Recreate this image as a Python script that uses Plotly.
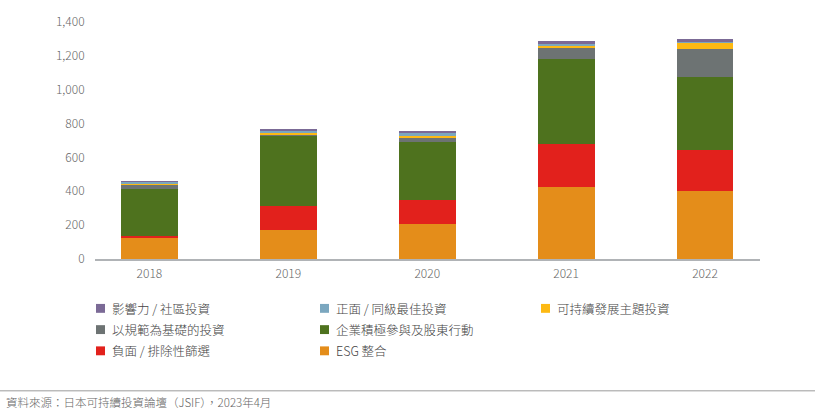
import plotly.graph_objects as go

# ---- data ----
years = ["2018", "2019", "2020", "2021", "2022"]
esg_integration = [124, 173, 204, 424, 402]
negative_screening = [14, 142, 144, 254, 239]
engagement = [276, 409, 341, 506, 437]
norms_based = [25, 13, 25, 60, 165]
sustainability_themes = [2, 8, 13, 13, 31]
positive_best_in_class = [15, 15, 15, 14, 13]
impact_community = [1, 3, 17, 18, 10]

series_names = [
    "ESG 整合",
    "負面 / 排除性篩選",
    "企業積極參與及股東行動",
    "以規範為基礎的投資",
    "可持續發展主題投資",
    "正面 / 同級最佳投資",
    "影響力 / 社區投資",
]
series_values = [esg_integration, negative_screening, engagement, norms_based,
                 sustainability_themes, positive_best_in_class, impact_community]
series_colors = ["#e48d1a", "#e2211c", "#4e721e", "#6d7373",
                 "#fdb913", "#7ba7bf", "#7b6a96"]

y_ticks = [0, 200, 400, 600, 800, 1000, 1200, 1400]
source_text = "資料來源：日本可持續投資論壇（JSIF），2023年4月"

# ---- layout geometry (pixels) ----
W, H = 820, 413
PL, PR, PT, PB = 95, 760, 19, 259  # plot area
FONT = "Noto Sans CJK TC, Noto Sans, sans-serif"


def xp(px):
    return (px - PL) / (PR - PL)


def yp(py):
    return (PB - py) / (PB - PT)


fig = go.Figure()
for name, vals, col in zip(series_names, series_values, series_colors):
    fig.add_trace(go.Bar(
        x=years, y=vals, name=name, marker=dict(color=col, line=dict(width=0)),
        width=0.41, showlegend=False,
    ))

# manual legend laid out like the reference (3 columns, rows)
legend_layout = [
    ("影響力 / 社區投資", 0, 0), ("正面 / 同級最佳投資", 1, 0), ("可持續發展主題投資", 2, 0),
    ("以規範為基礎的投資", 0, 1), ("企業積極參與及股東行動", 1, 1),
    ("負面 / 排除性篩選", 0, 2), ("ESG 整合", 1, 2),
]
col_x = [96, 320, 541]
row_y = [309, 330.5, 352]
shapes = []
annotations = []
for label, c, r in legend_layout:
    color = series_colors[series_names.index(label)]
    x0 = col_x[c]
    y0 = row_y[r]
    shapes.append(dict(type="rect", xref="paper", yref="paper",
                       x0=xp(x0), x1=xp(x0 + 9), y0=yp(y0 - 4.5), y1=yp(y0 + 4.5),
                       fillcolor=color, line=dict(width=0)))
    annotations.append(dict(text=label, xref="paper", yref="paper",
                            x=xp(x0 + 14), y=yp(y0), xanchor="left", yanchor="middle",
                            showarrow=False,
                            font=dict(family=FONT, size=12.5, color="#444444", weight=300)))

# footer rule and source
shapes.append(dict(type="line", xref="paper", yref="paper",
                   x0=xp(0), x1=xp(815), y0=yp(392.5), y1=yp(392.5),
                   line=dict(color="#9a9a9a", width=1)))
annotations.append(dict(text=source_text, xref="paper", yref="paper",
                        x=xp(4), y=yp(404), xanchor="left", yanchor="middle",
                        showarrow=False,
                        font=dict(family=FONT, size=11.5, color="#666666", weight=300)))

fig.update_layout(
    width=W, height=H,
    margin=dict(l=PL, r=W - PR, t=PT, b=H - PB, pad=0),
    barmode="stack",
    plot_bgcolor="white", paper_bgcolor="white",
    font=dict(family=FONT, size=12, color="#666666"),
    shapes=shapes, annotations=annotations,
    xaxis=dict(type="category", range=[-0.392, 4.396], showgrid=False,
               showline=True, linecolor="#b0b3b6", linewidth=2,
               ticks="outside", ticklen=3, tickcolor="rgba(0,0,0,0)",
               tickfont=dict(family=FONT, size=12, color="#666666", weight=300),
               zeroline=False),
    yaxis=dict(range=[0, 1400], tickvals=y_ticks, tickformat=",", showgrid=False,
               showline=False, zeroline=False,
               ticks="outside", ticklen=7, tickcolor="rgba(0,0,0,0)",
               tickfont=dict(family=FONT, size=12, color="#666666", weight=300)),
)

fig.write_html(
    "out.html",
    config={"displayModeBar": False},
    post_script="document.body.style.margin='0';document.body.style.overflow='hidden';",
)
